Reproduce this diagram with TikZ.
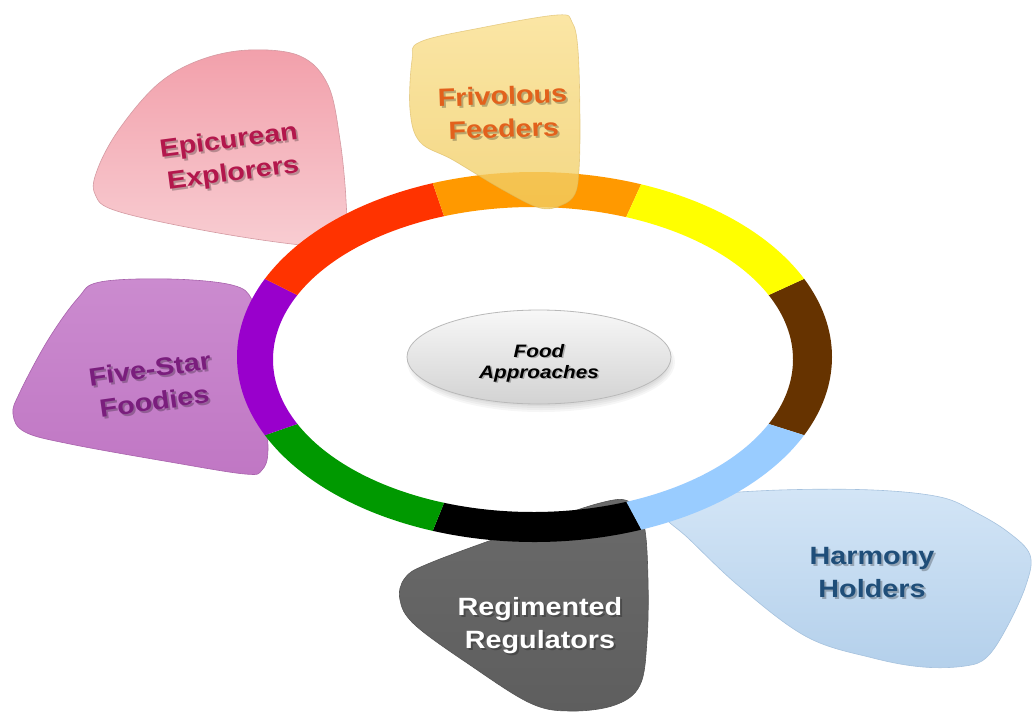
\documentclass[tikz,border=0pt]{standalone}
\usepackage{fontspec}
\setmainfont{Liberation Sans}
\newfontfamily\pfont[FakeStretch=1.15]{Liberation Sans}
\usetikzlibrary{shapes.geometric}
\definecolor{ringbrown}{HTML}{663300}
\definecolor{ringblue}{HTML}{99CCFF}
\definecolor{ringblack}{HTML}{000000}
\definecolor{ringgreen}{HTML}{009900}
\definecolor{ringpurple}{HTML}{9900CC}
\definecolor{ringred}{HTML}{FF3300}
\definecolor{ringorange}{HTML}{FF9900}
\definecolor{ringyellow}{HTML}{FFFF00}
\definecolor{epitop}{HTML}{F2A0AB}
\definecolor{epibot}{HTML}{F8CDD2}
\definecolor{epiedge}{HTML}{D49AA2}
\definecolor{fivetop}{HTML}{CB8BCF}
\definecolor{fivebot}{HTML}{C077C4}
\definecolor{fiveedge}{HTML}{A862AC}
\definecolor{frivtop}{HTML}{FADF8C}
\definecolor{frivbot}{HTML}{F1CD62}
\definecolor{frivedge}{HTML}{D8B55A}
\definecolor{regtop}{HTML}{6A6A6A}
\definecolor{regbot}{HTML}{5E5E5E}
\definecolor{regedge}{HTML}{555555}
\definecolor{harmtop}{HTML}{D3E5F6}
\definecolor{harmbot}{HTML}{B4D0EB}
\definecolor{harmedge}{HTML}{A6C2DE}
\definecolor{epitext}{HTML}{B3174C}
\definecolor{frivtext}{HTML}{E2611C}
\definecolor{fivetext}{HTML}{7A1E7D}
\definecolor{harmtext}{HTML}{1F4E79}
\tikzset{
  pebble/.style={line width=0.6pt},
  ptext/.style={align=center, inner sep=0pt,
    font=\pfont\bfseries\fontsize{25}{33}\selectfont},
  pshadow/.style={ptext, text=black, text opacity=0.25},
  core/.style={ellipse, minimum width=264pt, minimum height=94pt, inner sep=0pt,
    top color=gray!6, bottom color=gray!35, draw=gray!55, line width=0.8pt},
  coretext/.style={align=center, inner sep=0pt,
    font=\pfont\bfseries\itshape\fontsize{18}{21}\selectfont},
  coreshadow/.style={coretext, text=black, text opacity=0.25},
}
\begin{document}
\begin{tikzpicture}[x=1pt,y=1pt,yscale=-1]
\fill[white] (0,0) rectangle (1033,713);
\useasboundingbox (0,0) rectangle (1033,713);

% pebbles behind the ring
\shadedraw[pebble, top color=epitop, bottom color=epibot, draw=epiedge]
  plot[smooth cycle, tension=0.6] coordinates {(249,50) (300,56) (328,85) (340,140) (346,200) (345,236) (328,247) (230,235) (120,212) (95,194) (98,168) (120,128) (158,84) (200,60)};
\shadedraw[pebble, top color=fivetop, bottom color=fivebot, draw=fiveedge]
  plot[smooth cycle, tension=0.6] coordinates {(100,282) (170,279) (232,285) (252,300) (258,335) (264,400) (268,450) (262,470) (245,474) (170,462) (70,444) (25,432) (13,414) (20,392) (48,340) (78,298)};
\shadedraw[pebble, top color=regtop, bottom color=regbot, draw=regedge]
  plot[smooth cycle, tension=0.6] coordinates {(430,563) (520,530) (600,503) (630,502) (644,525) (648,580) (647,640) (640,685) (615,705) (570,711) (530,703) (470,665) (415,625) (400,600) (405,578)};
\shadedraw[pebble, top color=harmtop, bottom color=harmbot, draw=harmedge]
  plot[smooth cycle, tension=0.6] coordinates {(690,496) (780,490) (873,490) (940,497) (975,512) (1008,532) (1030,555) (1026,585) (1007,627) (987,657) (965,666) (923,667) (873,658) (807,637) (740,587) (688,538) (666,518) (670,503)};

% ring
\foreach \a/\b/\c in {-25/25/ringbrown, 25/69/ringblue, 69/110/ringblack, 110/155/ringgreen,
                      155/205/ringpurple, 205/250/ringred, 250/291/ringorange, 291/335/ringyellow}{
  \fill[\c] ([shift={(534.5,357)}]\a:297.5pt and 185pt)
    arc[start angle=\a, end angle=\b, x radius=297.5pt, y radius=185pt]
    -- ([shift={(533,359.5)}]\b:260pt and 152.5pt)
    arc[start angle=\b, end angle=\a, x radius=260pt, y radius=152.5pt] -- cycle;
}

% translucent pebble over the ring
\shadedraw[pebble, top color=frivtop, bottom color=frivbot, draw=frivedge, fill opacity=0.78, draw opacity=0.6]
  plot[smooth cycle, tension=0.6] coordinates {(420,42) (480,28) (557,15) (572,22) (578,50) (580,120) (579,170) (575,194) (562,205) (540,208) (503,190) (453,160) (420,142) (410,110) (412,60)};

% centre
\foreach \r in {0,2,4,6}{
  \fill[black, opacity=0.035] (541,362) ellipse [x radius={128pt+\r pt}, y radius={44pt+\r pt}];
}
\node[core] (food) at (539,357) {};
\node[coreshadow] (foodshadow) at (540.5,364.5) {Food\\Approaches};
\node[coretext] (foodtext) at (539,363) {Food\\Approaches};

% labels
\node[pshadow, rotate=7.5] (epis) at (233,160) {Epicurean\\Explorers};
\node[ptext, text=epitext, rotate=7.5] (epi) at (231,158) {Epicurean\\Explorers};
\node[pshadow, rotate=2] (frivs) at (505,114) {Frivolous\\Feeders};
\node[ptext, text=frivtext, rotate=2] (friv) at (503,112) {Frivolous\\Feeders};
\node[pshadow, rotate=8] (fives) at (154,387) {Five-Star\\Foodies};
\node[ptext, text=fivetext, rotate=8] (five) at (152,385) {Five-Star\\Foodies};
\node[pshadow] (regs) at (542,628) {Regimented\\Regulators};
\node[ptext, text=white] (reg) at (540,626) {Regimented\\Regulators};
\node[pshadow] (harms) at (874,575) {Harmony\\Holders};
\node[ptext, text=harmtext] (harm) at (872,573) {Harmony\\Holders};
\end{tikzpicture}
\end{document}
